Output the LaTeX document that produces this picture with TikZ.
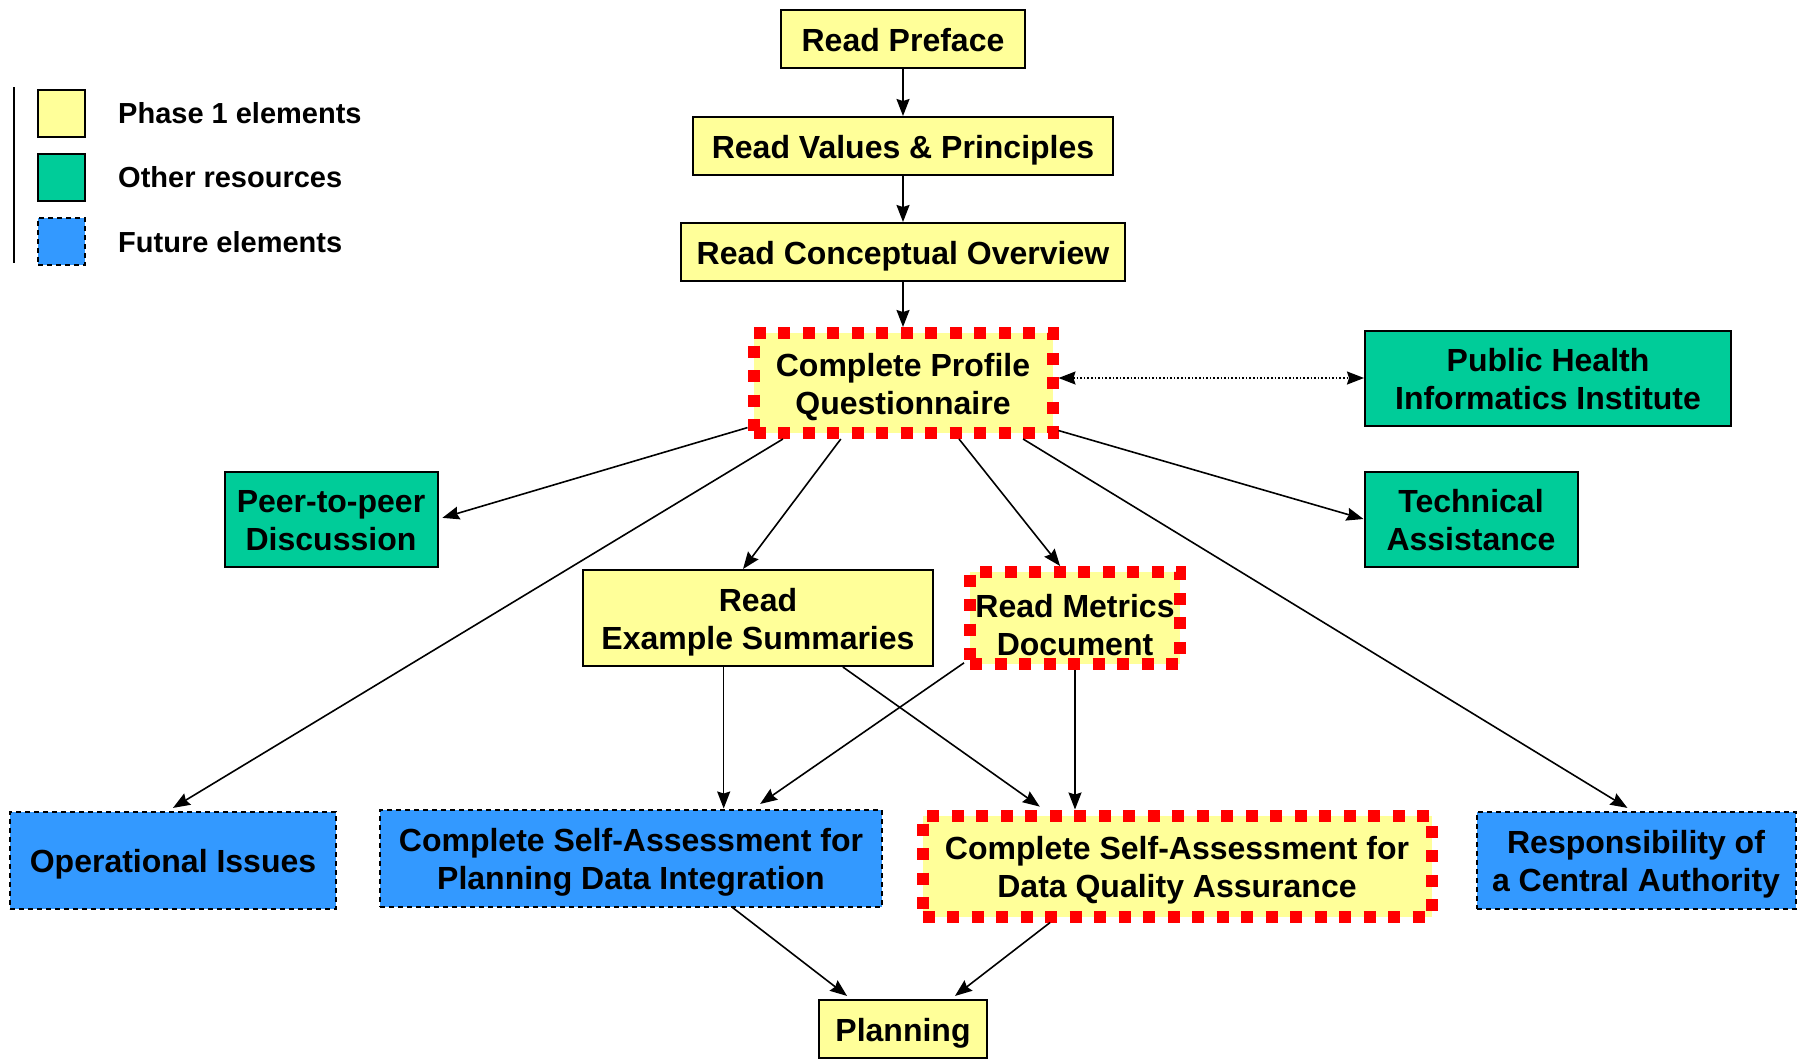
\documentclass[tikz,border=0pt]{standalone}
\usepackage{fontspec}
\setmainfont{Liberation Sans}
\usetikzlibrary{arrows.meta}
\definecolor{phaseyellow}{HTML}{FFFF99}
\definecolor{resgreen}{HTML}{00CC99}
\definecolor{futureblue}{HTML}{3399FF}
\begin{document}
\begin{tikzpicture}[x=1pt, y=-1pt,
    >={Stealth[length=17pt, width=13pt, inset=2pt]},
    box/.style={draw, line width=2pt, align=center, inner sep=0pt,
      text height=31.5pt, text depth=6.5pt,
      font=\fontsize{32}{38}\selectfont\bfseries},
    twoline/.style={text height=69.5pt},
    phase/.style={box, fill=phaseyellow},
    other/.style={box, fill=resgreen},
    future/.style={box, fill=futureblue, dash pattern=on 5pt off 4pt},
    current/.style={phase, draw=red, line width=12pt, dash pattern=on 12pt off 12.5pt},
    legbox/.style={draw, line width=2pt, minimum size=47pt, inner sep=0pt},
    legtext/.style={anchor=west, inner sep=0pt, font=\fontsize{29}{35}\selectfont\bfseries},
    link/.style={->, line width=1.6pt}]
    \useasboundingbox (0, 0) rectangle (1803, 1058);

    % legend
    \draw[line width=2pt] (14, 87) -- (14, 263);
    \node[legbox, fill=phaseyellow] (leg1) at (61.5, 113) {};
    \node[legbox, fill=resgreen] (leg2) at (61.5, 177) {};
    \node[legbox, fill=futureblue, dash pattern=on 5pt off 4pt] (leg3) at (61.5, 241) {};
    \node[legtext] (legt1) at (118, 113) {Phase 1 elements};
    \node[legtext] (legt2) at (118, 177) {Other resources};
    \node[legtext] (legt3) at (118, 242) {Future elements};

    % reading path
    \node[phase, minimum width=244pt, minimum height=58pt] (pref) at (903, 39) {Read Preface};
    \node[phase, minimum width=420pt, minimum height=58pt] (vals) at (903, 146) {Read Values \& Principles};
    \node[phase, minimum width=444pt, minimum height=58pt] (conc) at (903, 252) {Read Conceptual Overview};
    \node[current, twoline, minimum width=299pt, minimum height=100pt] (cpq) at (903, 383) {Complete Profile\\Questionnaire};

    % resources
    \node[other, twoline, minimum width=366pt, minimum height=95pt] (phii) at (1548, 378) {Public Health\\Informatics Institute};
    \node[other, twoline, minimum width=213pt, minimum height=95pt] (peer) at (331, 519) {Peer-to-peer\\Discussion};
    \node[other, twoline, minimum width=213pt, minimum height=95pt] (tech) at (1471, 519) {Technical\\Assistance};

    \node[phase, twoline, minimum width=350pt, minimum height=96pt] (exs) at (758, 618) {Read\\Example Summaries};
    \node[current, minimum width=210pt, minimum height=92pt, text height=81.5pt] (met) at (1075, 618) {Read Metrics\\Document};

    % self-assessments
    \node[future, minimum width=326pt, minimum height=97pt] (ops) at (173, 860) {Operational Issues};
    \node[future, twoline, minimum width=502pt, minimum height=97pt] (pdi) at (631, 858) {Complete Self-Assessment for\\Planning Data Integration};
    \node[current, twoline, minimum width=509pt, minimum height=101pt] (dqa) at (1177, 866) {Complete Self-Assessment for\\Data Quality Assurance};
    \node[future, twoline, minimum width=319pt, minimum height=97pt] (resp) at (1636, 860) {Responsibility of\\a Central Authority};
    \node[phase, minimum width=168pt, minimum height=58pt] (plan) at (903, 1029) {Planning};

    \draw[link] (pref) -- (vals);
    \draw[link] (vals) -- (conc);
    \draw[link] (conc) -- (cpq);
    \draw[<->, dotted, line width=1.6pt] (cpq.east |- phii.west) -- (phii.west);

    \draw[link, shorten >=4pt] (cpq.196) -- (peer.east);
    \draw[link, shorten >=5pt] (cpq.205) -- (ops.95);
    \draw[link] (cpq.222) -- (exs.107);
    \draw[link] (cpq.-45) -- (met.106);
    \draw[link] (cpq.-17) -- (tech.west);
    \draw[link, shorten >=5pt] (cpq.-25) -- (resp.95);

    \draw[link] (exs.235) -- (exs.235 |- pdi.north);
    \draw[link, shorten >=5pt] (exs.-30) -- (dqa.157);
    \draw[link, shorten >=8pt] (met.202) -- (pdi.22);
    \draw[link] (met.south) -- (met.south |- dqa.north);

    \draw[link, shorten >=5pt] (pdi.-26) -- (plan.150);
    \draw[link, shorten >=5pt] (dqa.204) -- (plan.32);
\end{tikzpicture}
\end{document}
